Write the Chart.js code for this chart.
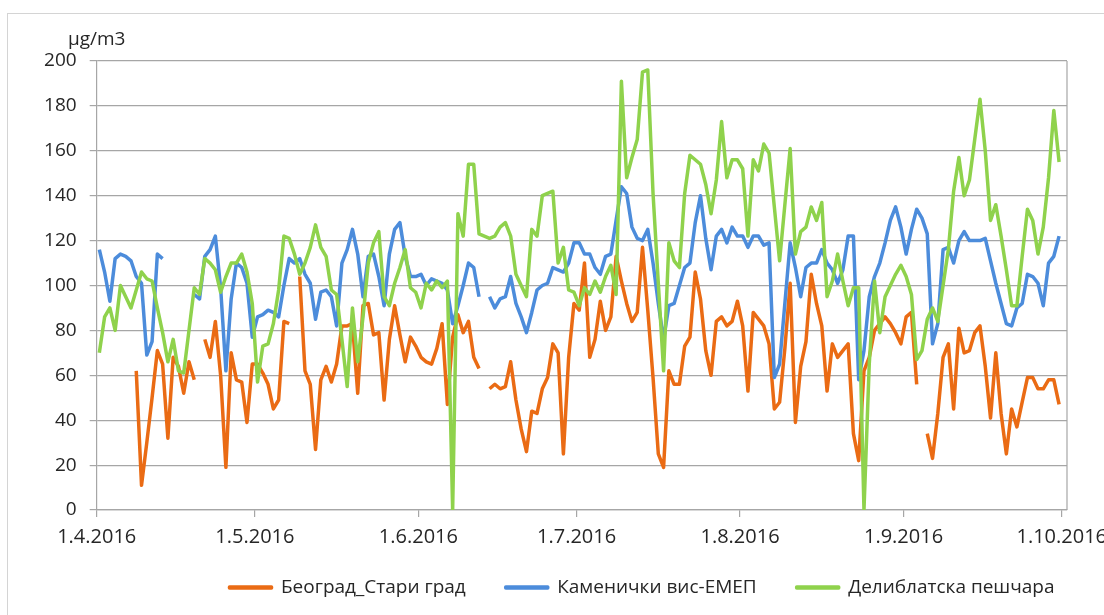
<!DOCTYPE html>
<html>
<head>
<meta charset="utf-8">
<title>PM10 2016</title>
<script src="https://cdn.jsdelivr.net/npm/chart.js@4.4.1/dist/chart.umd.min.js"></script>
<style>
  html, body { margin: 0; padding: 0; background: #fff; overflow: hidden; }
  #frame { position: absolute; left: 7px; top: 13px; width: 1200px; height: 700px; border: 1px solid #d4d4d4; }
  #wrap { position: absolute; left: 0; top: 0; width: 1104px; height: 615px; }
</style>
</head>
<body>
<div id="frame"></div>
<div id="wrap"><canvas id="chart"></canvas></div>
<script>
// day 0 = 1.4.2016, one value per day up to 30.9.2016
const monthDays = [0, 30, 61, 91, 122, 153, 183];
const monthLabels = ['1.4.2016', '1.5.2016', '1.6.2016', '1.7.2016', '1.8.2016', '1.9.2016', '1.10.2016'];
const seriesNames = ['Београд_Стари град', 'Каменички вис-ЕМЕП', 'Делиблатска пешчара'];
const unitLabel = 'µg/m3';

const beograd = [
  null, null, null, null, null, null, null, 62, 11, 30,
  50, 71, 65, 32, 68, 64, 52, 66, 58, null,
  76, 68, 84, 60, 19, 70, 58, 57, 39, 65,
  65, 61, 56, 45, 49, 84, 83, null, 104, 62,
  56, 27, 58, 64, 57, 65, 82, 82, 83, 52,
  91, 92, 78, 79, 49, 76, 91, 78, 66, 77,
  73, 68, 66, 65, 72, 83, 47, 77, 87, 79,
  84, 68, 63, null, 54, 56, 54, 55, 66, 49,
  36, 26, 44, 43, 54, 59, 74, 70, 25, 68,
  92, 89, 110, 68, 76, 93, 80, 86, 113, 102,
  92, 84, 88, 117, 89, 59, 25, 19, 62, 56,
  56, 73, 77, 106, 94, 71, 60, 84, 86, 82,
  84, 93, 82, 53, 88, 85, 82, 74, 45, 48,
  72, 101, 39, 64, 75, 105, 92, 82, 53, 74,
  68, 71, 74, 34, 22, 62, 68, 80, 83, 86,
  83, 79, 74, 86, 88, 56, null, 34, 23, 43,
  68, 74, 45, 81, 70, 71, 79, 82, 64, 41,
  70, 43, 25, 45, 37, 48, 59, 59, 54, 54,
  58, 58, 47
];

const kamenicki = [
  116, 106, 93, 112, 114, 113, 111, 104, 101, 69,
  75, 114, 112, null, null, null, null, null, 96, 94,
  113, 116, 122, 99, 62, 94, 110, 108, 101, 77,
  86, 87, 89, 88, 86, 100, 112, 110, 112, 105,
  101, 85, 97, 98, 95, 82, 110, 116, 125, 114,
  95, 113, 114, 104, 91, 114, 125, 128, 113, 104,
  104, 105, 100, 103, 102, 101, 98, 83, 91, 100,
  110, 108, 95, null, 95, 90, 94, 95, 104, 92,
  86, 79, 88, 98, 100, 101, 108, 107, 106, 110,
  119, 119, 114, 114, 108, 105, 113, 114, 129, 144,
  141, 126, 121, 120, 125, 110, 92, 76, 91, 92,
  100, 108, 110, 128, 140, 121, 107, 122, 125, 119,
  126, 122, 122, 117, 122, 122, 118, 119, 59, 65,
  92, 119, 108, 95, 108, 110, 110, 116, 110, 107,
  101, 107, 122, 122, 58, 71, 95, 104, 110, 119,
  129, 135, 126, 114, 125, 134, 130, 123, 74, 83,
  116, 117, 110, 120, 124, 120, 120, 120, 121, 111,
  101, 92, 83, 82, 90, 92, 105, 104, 101, 91,
  110, 113, 122
];

const deliblato = [
  70, 86, 90, 80, 100, 95, 90, 98, 106, 103,
  102, 90, 79, 66, 76, 62, 61, 80, 99, 96,
  112, 110, 107, 97, 104, 110, 110, 114, 106, 92,
  57, 73, 74, 83, 98, 122, 121, 114, 105, 110,
  117, 127, 117, 113, 98, 96, 76, 55, 90, 66,
  86, 110, 119, 124, 95, 91, 101, 108, 116, 99,
  97, 90, 101, 98, 102, 99, 102, 0, 132, 122,
  154, 154, 123, 122, 121, 122, 126, 128, 122, 105,
  100, 95, 125, 122, 140, 141, 142, 110, 117, 98,
  97, 91, 99, 96, 102, 97, 104, 109, 96, 191,
  148, 157, 165, 195, 196, 141, 101, 62, 119, 111,
  108, 141, 158, 156, 154, 145, 132, 147, 173, 148,
  156, 156, 152, 122, 156, 151, 163, 159, 135, 111,
  136, 161, 114, 124, 126, 135, 129, 137, 95, 102,
  114, 102, 91, 99, 99, 0, 65, 102, 79, 95,
  100, 105, 109, 104, 96, 67, 71, 85, 90, 84,
  100, 116, 142, 157, 140, 147, 165, 183, 160, 129,
  136, 122, 107, 91, 91, 113, 134, 129, 114, 126,
  148, 178, 155
];

const colors = ['#ea6b14', '#4c8cdb', '#8fd24c'];
const gridColor = '#a6a6a6';
const textColor = '#262626';

Chart.defaults.font.family = "'Open Sans', 'Noto Sans', sans-serif";
Chart.defaults.color = textColor;

// each daily value sits in the middle of its day
function toPoints(values) {
  return values.map((v, i) => ({ x: i + 0.5, y: v }));
}

function lineSet(i, values, order) {
  return {
    label: seriesNames[i],
    data: toPoints(values),
    borderColor: colors[i],
    backgroundColor: colors[i],
    borderWidth: 3.5,
    borderJoinStyle: 'round',
    pointRadius: 0,
    tension: 0,
    spanGaps: false,
    order: order
  };
}

const extras = {
  id: 'extras',
  afterLayout(chart) {
    // legend sits right of the canvas centre and closer to the axis in the original
    const lg = chart.legend;
    const shift = 642 - (lg.left + lg.right) / 2;
    lg.left += shift;
    lg.right += shift;
    lg.top -= 17;
    lg.bottom -= 17;
  },
  beforeDatasetsDraw(chart) {
    // right edge of the plot area
    const a = chart.chartArea;
    const ctx = chart.ctx;
    ctx.save();
    ctx.strokeStyle = gridColor;
    ctx.lineWidth = 1.2;
    ctx.beginPath();
    ctx.moveTo(a.right, a.top);
    ctx.lineTo(a.right, a.bottom);
    ctx.stroke();
    ctx.restore();
  },
  afterDraw(chart) {
    // unit above the value axis
    const ctx = chart.ctx;
    ctx.save();
    ctx.font = "19px 'Open Sans', 'Noto Sans', sans-serif";
    ctx.fillStyle = textColor;
    ctx.textAlign = 'center';
    ctx.textBaseline = 'middle';
    ctx.fillText(unitLabel, chart.chartArea.left, 40);
    ctx.restore();
  }
};

new Chart(document.getElementById('chart'), {
  type: 'line',
  data: {
    datasets: [
      lineSet(0, beograd, 3),
      lineSet(1, kamenicki, 2),
      lineSet(2, deliblato, 1)
    ]
  },
  options: {
    responsive: true,
    maintainAspectRatio: false,
    animation: false,
    layout: { padding: { top: 61, right: 37, bottom: 0, left: 0 } },
    scales: {
      x: {
        type: 'linear',
        min: 0,
        max: 184,
        afterBuildTicks: s => { s.ticks = monthDays.map(v => ({ value: v })); },
        afterFit: s => { s.height = 45; s.paddingLeft = 0; s.paddingRight = 0; },
        ticks: {
          autoSkip: false,
          maxRotation: 0,
          padding: 8,
          font: { size: 20 },
          callback: (v, i) => monthLabels[i]
        },
        grid: { drawOnChartArea: false, tickLength: 7, color: gridColor, lineWidth: 1.2 },
        border: { color: gridColor, width: 1.2 }
      },
      y: {
        min: 0,
        max: 200,
        afterFit: s => { s.width = 96.7; },
        ticks: { stepSize: 20, padding: 13, font: { size: 19 } },
        grid: { color: gridColor, lineWidth: 1.2, tickLength: 7 },
        border: { color: gridColor, width: 1.2 }
      }
    },
    plugins: {
      legend: {
        position: 'bottom',
        maxHeight: 60,
        labels: {
          boxWidth: 42,
          boxHeight: 1,
          padding: 40,
          color: textColor,
          font: { size: 19 },
          sort: (a, b) => a.datasetIndex - b.datasetIndex
        }
      },
      tooltip: { enabled: false }
    }
  },
  plugins: [extras]
});
</script>
</body>
</html>
